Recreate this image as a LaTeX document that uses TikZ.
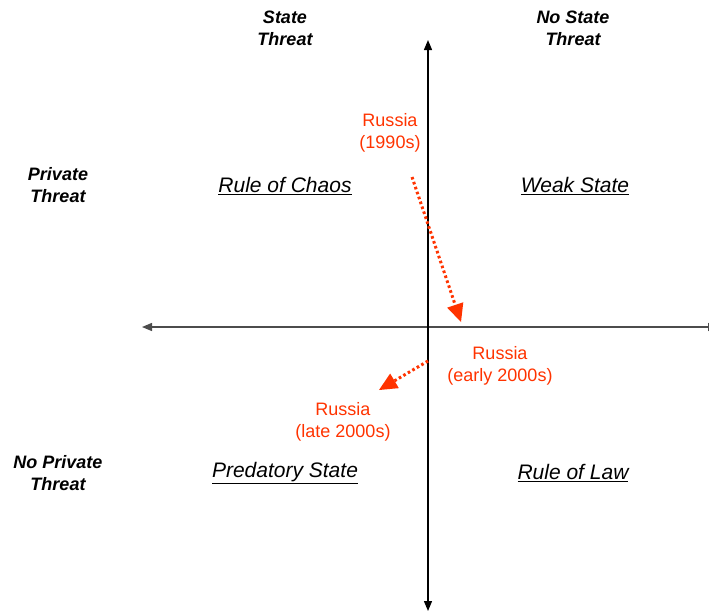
\documentclass[tikz,border=0pt]{standalone}
\usepackage{fontspec}
\setmainfont{Liberation Sans}
\usetikzlibrary{arrows.meta}
\definecolor{russiared}{RGB}{255,51,0}

\begin{document}
\begin{tikzpicture}[x=1pt, y=-1pt]
	\tikzstyle{head}=[align=center, font=\fontsize{18}{22}\selectfont\bfseries\itshape];
	\tikzstyle{quad}=[font=\fontsize{21}{24}\selectfont\itshape];
	\tikzstyle{russia}=[align=center, text=russiared, font=\fontsize{18}{22}\selectfont];
	\tikzstyle{move}=[draw=russiared, line width=3pt, dash pattern=on 2.6pt off 2.6pt, -{Triangle[length=18pt, width=17pt, line width=0pt]}];
	\tikzstyle{axis}=[line width=1.3pt, -{Triangle[length=10pt, width=8pt]}];

	\useasboundingbox (0, 0) rectangle (709, 611);

	% axes
	\coordinate (top) at (428, 40);
	\coordinate (bottom) at (428, 611);
	\coordinate (left) at (142, 327);
	\coordinate (right) at (718, 327);
	\coordinate (mid) at (428, 327);
	\draw[axis, black!70] (mid) -- (left);
	\draw[axis, black!70] (mid) -- (right);
	\draw[axis] (mid) -- (top);
	\draw[axis] (mid) -- (bottom);

	% headings
	\node[head] (state) at (285, 28) {State\\Threat};
	\node[head] (nostate) at (573, 28) {No State\\Threat};
	\node[head] (private) at (58, 185) {Private\\Threat};
	\node[head] (noprivate) at (58, 473) {No Private\\Threat};

	% quadrants
	\node[quad] (chaos) at (285, 186) {\underline{Rule of Chaos}};
	\node[quad] (weak) at (575, 186) {\underline{Weak State}};
	\node[quad] (predatory) at (285, 473) {\underline{Predatory State}};
	\node[quad] (law) at (573, 473) {\underline{Rule of Law}};

	% russia over time
	\node[russia] (r90) at (390, 133) {Russia\\(1990s)};
	\node[russia] (rearly) at (500, 366) {Russia\\(early 2000s)};
	\node[russia] (rlate) at (343, 422) {Russia\\(late 2000s)};
	\coordinate (a) at (412, 177);
	\coordinate (b) at (461, 322);
	\coordinate (c) at (428, 361);
	\coordinate (d) at (379, 390);
	\draw[move] (a) -- (b);
	\draw[move] (c) -- (d);
\end{tikzpicture}
\end{document}
